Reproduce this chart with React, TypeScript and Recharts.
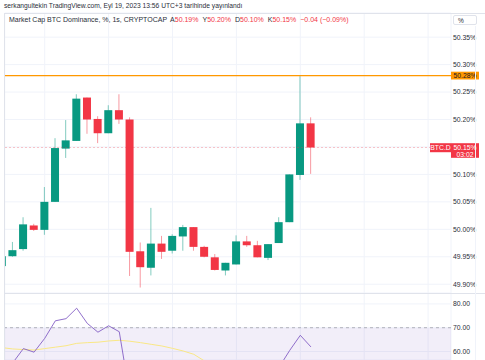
import React from "react";
import {
    ComposedChart,
    Bar,
    Line,
    XAxis,
    YAxis,
    CartesianGrid,
    ReferenceLine,
    ReferenceArea,
} from "recharts";

const FONT = '"Liberation Sans", Arial, sans-serif';
const GREEN = "#089981";
const RED = "#F23645";

// 1s candles
const opens = [
    49.933, 49.951, 49.964, 50.007, 49.999, 50.05, 50.147, 50.161, 50.24, 50.201,
    50.175, 50.217, 50.2, 49.96, 49.93, 49.974, 49.961, 49.987, 50.004, 49.968,
    49.949, 49.925, 49.936, 49.978, 49.971, 49.948, 49.975, 50.013, 50.099, 50.193,
];
const highs = [
    49.953, 49.977, 50.022, 50.01, 50.077, 50.166, 50.199, 50.246, 50.24, 50.206,
    50.226, 50.246, 50.204, 49.976, 50.039, 49.988, 49.991, 50.008, 50.004, 49.97,
    49.955, 49.939, 49.989, 49.988, 49.979, 49.973, 50.022, 50.1, 50.279, 50.204,
];
const lows = [
    49.93, 49.95, 49.961, 49.997, 49.99, 50.05, 50.13, 50.161, 50.174, 50.157,
    50.175, 50.192, 49.915, 49.894, 49.916, 49.946, 49.956, 49.961, 49.961, 49.949,
    49.925, 49.916, 49.936, 49.968, 49.949, 49.944, 49.975, 50.013, 50.09, 50.101,
];
const closes = [
    49.951, 49.962, 50.009, 49.999, 50.05, 50.148, 50.162, 50.238, 50.2, 50.175,
    50.217, 50.2, 49.959, 49.931, 49.974, 49.959, 49.988, 50.004, 49.968, 49.95,
    49.926, 49.939, 49.978, 49.971, 49.949, 49.973, 50.013, 50.1, 50.193, 50.149,
];

// RSI pane
const rsiValues = [
    52, 55.2, 61.2, 59.7, 65.5, 72.9, 73.8, 78.2, 71.8, 68.1,
    70.8, 68.3, 41.3, 36, 42, 40, 43, 46, 42, 40,
    37, 39, 45, 44, 41, 45, 53.3, 60.4, 66.8, 61.9,
];
const rsiMa = [
    61.6, 61.05, 60.8, 60.6, 61.2, 61.8, 62.4, 63.4, 63.7, 63.9,
    64.4, 64.7, 64.3, 63.7, 63.0, 62.3, 61.3, 60.2, 58.8, 56.0,
    54, 52.5, 51, 50, 49, 48.5, 48, 48, 48.5, 49,
];

const priceTicks = [49.9, 49.95, 50.0, 50.05, 50.1, 50.15, 50.2, 50.25, 50.3, 50.35];
const rsiTicks = [60, 70, 80];
const timeTicks = [4, 10, 16, 22, 28, 34, 40];
const highlightLevel = 50.28;
const lastPrice = closes[closes.length - 1];

const X_DOMAIN = [0.244, 42.15];
const PRICE_DOMAIN = [49.884, 50.394];
const RSI_DOMAIN = [56.4, 84.6];

const candles = opens.map((o, i) => ({
    i,
    open: o,
    high: highs[i],
    low: lows[i],
    close: closes[i],
    range: [lows[i], highs[i]],
    rsi: rsiValues[i],
    ma: rsiMa[i],
}));

const Candle = (props: any) => {
    const { x, y, width, height, payload } = props;
    if (!payload) return null;
    const { open, close, high, low } = payload;
    const top = Math.min(y, y + height);
    const h = Math.abs(height);
    const k = h / (high - low || 1e-9);
    const color = close >= open ? GREEN : RED;
    const bodyTop = top + (high - Math.max(open, close)) * k;
    const bodyH = Math.max(1, Math.abs(open - close) * k);
    const cx = x + width / 2;
    return (
        <g>
            <line x1={cx} x2={cx} y1={top} y2={top + h} stroke={color} strokeOpacity={0.5} />
            <rect x={x} y={bodyTop} width={width} height={bodyH} fill={color} />
        </g>
    );
};

const AxisTick = (props: any) => {
    const { x, y, payload, suffix, skip } = props;
    if (skip !== undefined && Math.abs(payload.value - skip) < 1e-6) return null;
    return (
        <text x={x} y={y} dy="0.35em" fontSize={6.8} fill="#2a2e39" fontFamily={FONT}>
            {payload.value.toFixed(2) + (suffix || "")}
        </text>
    );
};

const OrangeBadge = (props: any) => {
    const { viewBox } = props;
    const x = viewBox.x + viewBox.width;
    return (
        <g>
            <rect x={x} y={viewBox.y - 3.9} width={28} height={7.8} fill="#FF9800" />
            <text x={x + 14} y={viewBox.y} dy="0.35em" textAnchor="middle" fontSize={6.8} fill="#131722" fontFamily={FONT}>
                {highlightLevel.toFixed(2)}%
            </text>
        </g>
    );
};

const LastBadge = (props: any) => {
    const { viewBox } = props;
    const x = viewBox.x + viewBox.width;
    const y = viewBox.y;
    return (
        <g fontFamily={FONT} fontSize={6.8} fill="#fff">
            <rect x={x - 21} y={y - 4.3} width={21} height={9} fill={RED} />
            <rect x={x} y={y - 4.3} width={28} height={14.6} fill={RED} />
            <text x={x - 10.5} y={y + 0.2} dy="0.35em" textAnchor="middle">BTC.D</text>
            <text x={x + 14} y={y + 0.2} dy="0.35em" textAnchor="middle">{lastPrice.toFixed(2)}%</text>
            <text x={x + 14} y={y + 7.2} dy="0.35em" textAnchor="middle">03:02</text>
        </g>
    );
};

export default function App() {
    return (
        <div
            style={{
                position: "absolute",
                left: 0,
                top: 0,
                width: 485,
                height: 360,
                background: "#fff",
                overflow: "hidden",
                fontFamily: FONT,
                color: "#131722",
            }}
        >
            <div style={{ position: "absolute", left: 4, top: 1.8, fontSize: 6.7, whiteSpace: "nowrap", color: "#2a2e39" }}>
                serkangultekin TradingView.com, Eyl 19, 2023 13:56 UTC+3 tarihinde yayınlandı
            </div>

            <div style={{ position: "absolute", left: 0, top: 0 }}>
                <ComposedChart
                    width={485}
                    height={293}
                    data={candles}
                    margin={{ top: 13, right: 4, bottom: 0, left: 4.7 }}
                >
                    <CartesianGrid stroke="#f0f3fa" />
                    <XAxis dataKey="i" type="number" domain={X_DOMAIN} ticks={timeTicks} allowDataOverflow hide />
                    <YAxis
                        orientation="right"
                        width={30}
                        domain={PRICE_DOMAIN}
                        ticks={priceTicks}
                        interval={0}
                        allowDataOverflow
                        axisLine={false}
                        tickLine={false}
                        tickSize={0}
                        tickMargin={2}
                        tick={<AxisTick suffix="%" skip={50.15} />}
                    />
                    <ReferenceLine y={highlightLevel} stroke="#FF9800" strokeWidth={1.2} label={<OrangeBadge />} />
                    <Bar dataKey="range" barSize={8} shape={<Candle />} isAnimationActive={false} />
                    <ReferenceLine
                        y={lastPrice}
                        stroke={RED}
                        strokeOpacity={0.28}
                        strokeDasharray="2 2"
                        label={<LastBadge />}
                    />
                </ComposedChart>
            </div>

            <div style={{ position: "absolute", left: 0, top: 293 }}>
                <ComposedChart
                    width={485}
                    height={67}
                    data={candles}
                    margin={{ top: 0, right: 4, bottom: 0, left: 4.7 }}
                >
                    <CartesianGrid stroke="#f0f3fa" />
                    <XAxis dataKey="i" type="number" domain={X_DOMAIN} ticks={timeTicks} allowDataOverflow hide />
                    <YAxis
                        orientation="right"
                        width={30}
                        domain={RSI_DOMAIN}
                        ticks={rsiTicks}
                        interval={0}
                        allowDataOverflow
                        axisLine={false}
                        tickLine={false}
                        tickSize={0}
                        tickMargin={2}
                        tick={<AxisTick />}
                    />
                    <ReferenceArea y1={30} y2={70} fill="#7E57C2" fillOpacity={0.1} strokeOpacity={0} ifOverflow="hidden" />
                    <ReferenceLine y={70} stroke="#9598a1" strokeDasharray="3 3" strokeOpacity={0.7} />
                    <Line type="linear" dataKey="ma" stroke="#F9E785" strokeWidth={1} dot={false} isAnimationActive={false} />
                    <Line type="linear" dataKey="rsi" stroke="#7E57C2" strokeWidth={1} strokeOpacity={0.85} dot={false} isAnimationActive={false} />
                </ComposedChart>
            </div>

            {/* pane borders */}
            <div style={{ position: "absolute", left: 4, top: 12.5, width: 481, height: 1, background: "#e0e3eb" }} />
            <div style={{ position: "absolute", left: 4, top: 12.5, width: 1, height: 348, background: "#e0e3eb" }} />
            <div style={{ position: "absolute", left: 4, top: 292.5, width: 481, height: 1, background: "#e0e3eb" }} />
            <div style={{ position: "absolute", left: 475, top: 26, width: 1, height: 334, background: "#f0f3fa" }} />

            {/* legend */}
            <div style={{ position: "absolute", left: 9, top: 15.5, fontSize: 7, whiteSpace: "nowrap", color: "#2a2e39" }}>
                Market Cap BTC Dominance, %, 1s, CRYPTOCAP
                <span style={{ marginLeft: 3 }}>A</span>
                <span style={{ color: RED }}>{opens[29].toFixed(2)}%</span>
                <span style={{ marginLeft: 4 }}>Y</span>
                <span style={{ color: RED }}>{highs[29].toFixed(2)}%</span>
                <span style={{ marginLeft: 4 }}>D</span>
                <span style={{ color: RED }}>{lows[29].toFixed(2)}%</span>
                <span style={{ marginLeft: 4 }}>K</span>
                <span style={{ color: RED }}>{closes[29].toFixed(2)}%</span>
                <span style={{ color: RED, marginLeft: 4 }}>−0.04 (−0.09%)</span>
            </div>

            <div
                style={{
                    position: "absolute",
                    left: 453,
                    top: 14.5,
                    width: 24,
                    height: 10,
                    border: "1px solid #e0e3eb",
                    borderRadius: 2,
                    background: "#fff",
                    fontSize: 6.5,
                    lineHeight: "10px",
                    paddingLeft: 4,
                    boxSizing: "border-box",
                    color: "#2a2e39",
                }}
            >
                %
            </div>
        </div>
    );
}
